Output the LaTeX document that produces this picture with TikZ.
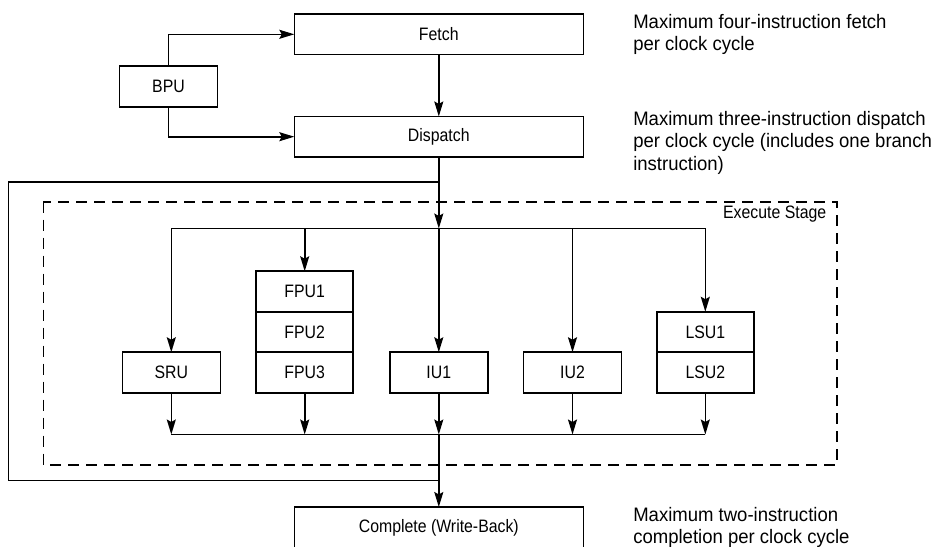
\documentclass[tikz,border=0pt]{standalone}
\usepackage{fontspec}
\setmainfont{Liberation Sans}
\newfontfamily\boxfont{Liberation Sans}[FakeStretch=0.88]
\newfontfamily\notefont{Liberation Sans}[FakeStretch=0.95]
\usetikzlibrary{arrows.meta,positioning}
\begin{document}
\begin{tikzpicture}[x=1pt,y=-1pt,line width=1.6pt,
    unit/.style={draw,inner sep=0pt,outer sep=0pt,minimum width=98pt,minimum height=40.5pt,
      font=\boxfont\fontsize{18}{20}\selectfont},
    wide/.style={unit,minimum width=289pt},
    flow/.style={-{Stealth[length=15pt,width=9pt,inset=2.5pt]}},
    stagebox/.style={dash pattern=on 11pt off 7pt},
    note/.style={anchor=base west,align=left,inner sep=0pt,
      font=\notefont\fontsize{19.5}{22.5}\selectfont}]
  \useasboundingbox (0,0) rectangle (941,546);

  % front end
  \node[wide] (fetch) at (438.8,34.3) {Fetch};
  \node[wide] (dispatch) at (438.8,136.7) {Dispatch};
  \node[unit,minimum height=41pt] (bpu) at (168.5,86.2) {BPU};
  \draw[flow] (bpu.north) |- (fetch.west);
  \draw[flow] (bpu.south) |- (dispatch.west);
  \draw[flow] (fetch) -- (dispatch);

  % execute stage
  \draw[stagebox] (43.3,201.7) rectangle (836.7,465);
  \node[anchor=east,inner sep=0pt,font=\boxfont\fontsize{18}{20}\selectfont] (stagelbl) at (827,214.5) {Execute Stage};
  \node[unit] (sru) at (171.3,372.5) {SRU};
  \node[unit,minimum width=97pt] (fpu1) at (304.7,291.5) {FPU1};
  \node[unit,minimum width=97pt,below=0pt of fpu1] (fpu2) {FPU2};
  \node[unit,minimum width=97pt,below=0pt of fpu2] (fpu3) {FPU3};
  \node[unit] (iu1) at (438.8,372.5) {IU1};
  \node[unit] (iu2) at (572.5,372.5) {IU2};
  \node[unit,minimum width=97pt] (lsu1) at (705.3,332) {LSU1};
  \node[unit,minimum width=97pt,below=0pt of lsu1] (lsu2) {LSU2};

  % complete
  \node[wide,minimum height=42pt] (complete) at (438.8,528) {Complete (Write-Back)};

  % dispatch bus and loop
  \coordinate (looptop) at (438.8,182);
  \coordinate (loopcorner) at (8.3,480.5);
  \coordinate (loopbot) at (438.8,480.5);
  \coordinate (split) at (438.8,228.5);
  \coordinate (join) at (438.8,434.5);
  \draw (looptop) -| (loopcorner) -- (loopbot);
  \draw[flow] (dispatch) -- (split);
  \foreach \u in {sru,fpu1,iu2,lsu1}
    \draw[flow] (split) -| (\u.north);
  \draw[flow] (split) -- (iu1);
  \foreach \u in {sru,fpu3,iu1,iu2,lsu2}
    \draw[flow] (\u.south) -- (\u.south |- join);
  \draw (sru.south |- join) -- (lsu2.south |- join);
  \draw[flow] (join) -- (complete);

  % notes (base is the last line)
  \node[note] (fetchnote) at (632.5,50.8) {Maximum four-instruction fetch\\per clock cycle};
  \node[note] (dispnote) at (632.5,170) {Maximum three-instruction dispatch\\per clock cycle (includes one branch\\instruction)};
  \node[note] (compnote) at (632.5,543.5) {Maximum two-instruction\\completion per clock cycle};
\end{tikzpicture}
\end{document}
